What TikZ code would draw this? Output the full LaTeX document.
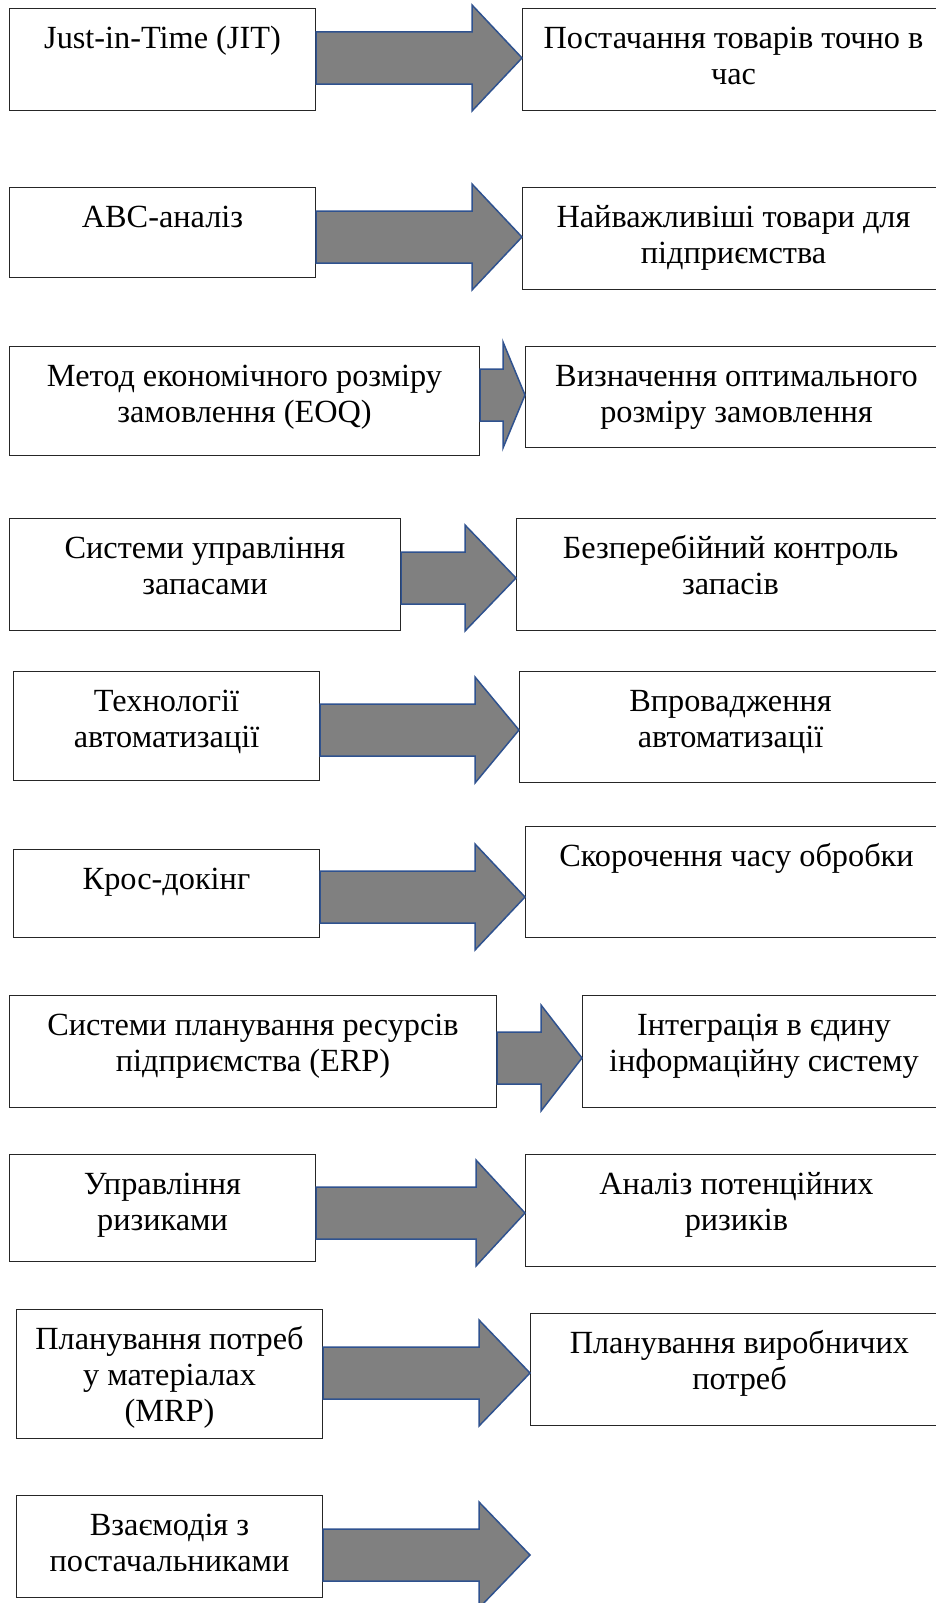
\documentclass[tikz,border=0pt]{standalone}
\usepackage{fontspec}
\setmainfont{Liberation Serif}
\usepackage{xcolor}
\usepackage{tikz}
\usetikzlibrary{calc}

\definecolor{arrowfill}{HTML}{808080}
\definecolor{arrowline}{HTML}{2F528F}

% text of a box: width, height, lines
\newcommand{\boxtext}[3]{\parbox[t][#2pt][t]{#1pt}{\centering\rule{0pt}{40pt}#3}}
% block arrow: from, to, centre y, head length
\newcommand{\blockarrow}[4]{%
  \draw[blockarr] (#1 |- 0,#3-26) -- ($(#2 |- 0,#3-26)+(-#4,0)$)
    -- ($(#2 |- 0,#3-53)+(-#4,0)$) -- (#2 |- 0,#3)
    -- ($(#2 |- 0,#3+53)+(-#4,0)$) -- ($(#2 |- 0,#3+26)+(-#4,0)$)
    -- (#1 |- 0,#3+26) -- cycle;}

\begin{document}
\begin{tikzpicture}[x=1pt, y=-1pt,
  box/.style={draw=black!85, line width=1pt, inner sep=0pt, anchor=north west,
    font=\fontsize{32.3}{36}\selectfont},
  blockarr/.style={fill=arrowfill, draw=arrowline, line width=1.5pt, line join=miter}]
  \clip (0,0) rectangle (936,1603);

  \node [box] (l1) at (9,8) {\boxtext{306}{102}{Just-in-Time (JIT)}};
  \node [box] (r1) at (522,8) {\boxtext{422}{102}{Постачання товарів точно в\\ час}};
  \node [box] (l2) at (9,187) {\boxtext{306}{90}{АВС-аналіз}};
  \node [box] (r2) at (522,187) {\boxtext{422}{102}{Найважливіші товари для\\ підприємства}};
  \node [box] (l3) at (9,346) {\boxtext{470}{109}{Метод економічного розміру\\ замовлення (EOQ)}};
  \node [box] (r3) at (525,346) {\boxtext{422}{101}{Визначення оптимального\\ розміру замовлення}};
  \node [box] (l4) at (9,518) {\boxtext{391}{112}{Системи управління\\ запасами}};
  \node [box] (r4) at (516,518) {\boxtext{428}{112}{Безперебійний контроль\\ запасів}};
  \node [box] (l5) at (13,671) {\boxtext{306}{109}{Технології\\ автоматизації}};
  \node [box] (r5) at (519,671) {\boxtext{422}{111}{Впровадження\\ автоматизації}};
  \node [box] (l6) at (13,849) {\boxtext{306}{88}{Крос-докінг}};
  \node [box] (r6) at (525,826) {\boxtext{422}{111}{Скорочення часу обробки}};
  \node [box] (l7) at (9,995) {\boxtext{487}{112}{Системи планування ресурсів\\ підприємства (ERP)}};
  \node [box] (r7) at (582,995) {\boxtext{363}{112}{Інтеграція в єдину\\ інформаційну систему}};
  \node [box] (l8) at (9,1154) {\boxtext{306}{107}{Управління\\ ризиками}};
  \node [box] (r8) at (525,1154) {\boxtext{422}{112}{Аналіз потенційних\\ ризиків}};
  \node [box] (l9) at (16,1309) {\boxtext{306}{129}{Планування потреб\\ у матеріалах\\ (MRP)}};
  \node [box] (r9) at (530,1313) {\boxtext{418}{112}{Планування виробничих\\ потреб}};
  \node [box] (l10) at (16,1495) {\boxtext{306}{102}{Взаємодія з\\ постачальниками}};
  \coordinate (e10) at (530,1555);

  \blockarrow{l1.east}{r1.west}{58}{50}
  \blockarrow{l2.east}{r2.west}{237}{50}
  \blockarrow{l3.east}{r3.west}{395}{22}
  \blockarrow{l4.east}{r4.west}{578}{51}
  \blockarrow{l5.east}{r5.west}{730}{44}
  \blockarrow{l6.east}{r6.west}{897}{50}
  \blockarrow{l7.east}{r7.west}{1058}{41}
  \blockarrow{l8.east}{r8.west}{1213}{49}
  \blockarrow{l9.east}{r9.west}{1373}{51}
  \blockarrow{l10.east}{e10}{1555}{51}
\end{tikzpicture}
\end{document}
